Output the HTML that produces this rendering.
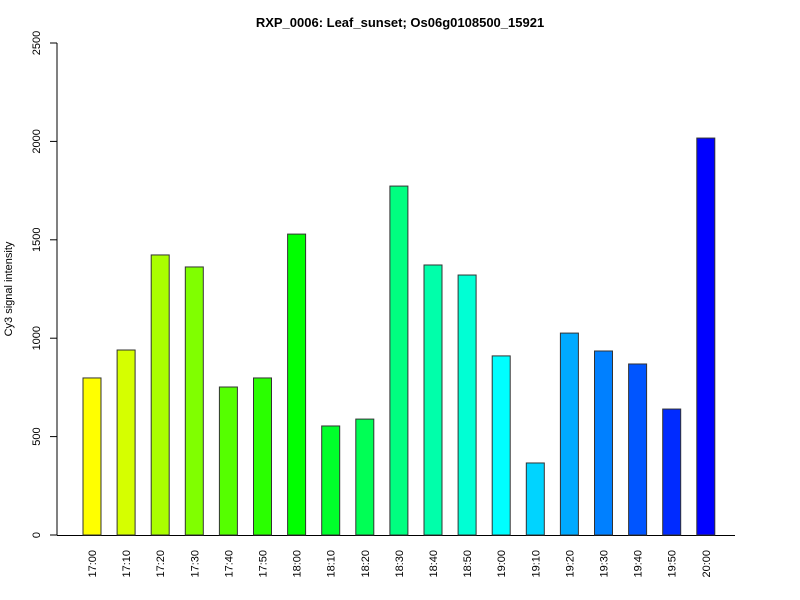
<!DOCTYPE html>
<html><head><meta charset="utf-8"><style>body{margin:0;background:#fff}svg{display:block}text{font-family:"Liberation Sans",sans-serif}</style></head>
<body>
<svg id="c" width="800" height="600">
<text x="400" y="27" text-anchor="middle" font-size="13" font-weight="bold">RXP_0006: Leaf_sunset; Os06g0108500_15921</text>
<text transform="translate(12,289) rotate(-90)" text-anchor="middle" font-size="11">Cy3 signal intensity</text>
</svg>
<script>
const categories=["17:00","17:10","17:20","17:30","17:40","17:50","18:00","18:10","18:20","18:30","18:40","18:50","19:00","19:10","19:20","19:30","19:40","19:50","20:00"];
const values=[798,940,1423,1362,752,798,1529,554,589,1773,1372,1321,910,366,1026,935,869,640,2017];
const yTicks=[0,500,1000,1500,2000,2500];
const NS="http://www.w3.org/2000/svg",svg=document.getElementById('c');
const y=v=>535-v*492/2500, x=i=>83+i*34.1;
function mk(t,a,p){const e=document.createElementNS(NS,t);for(const k in a)e.setAttribute(k,a[k]);(p||svg).appendChild(e);return e;}
const yl=mk('line',{x1:57,x2:57,y1:y(0),y2:y(2500),stroke:'#000'});


const xl=mk('line',{x1:57,x2:735,y1:535.5,y2:535.5,stroke:'#000'});


yTicks.forEach(t=>{
 const tk=mk('line',{x1:50,x2:57,y1:y(t),y2:y(t),stroke:'#000'});
 
 
 const tx=mk('text',{transform:`translate(40,${y(t)}) rotate(-90)`,'text-anchor':'middle','font-size':11});
 tx.textContent=t;
 
 
});
values.forEach((v,i)=>{
 const h=60+i*180/(values.length-1);
 const r=mk('rect',{x:x(i),y:y(v),width:18,height:y(0)-y(v),fill:`hsl(${h},100%,50%)`,stroke:'#333','stroke-width':1});
 
 
 const t=mk('text',{transform:`translate(${x(i)+13},550) rotate(-90)`,'text-anchor':'end','font-size':11});
 t.textContent=categories[i];
 
 
});
</script>
</body></html>
